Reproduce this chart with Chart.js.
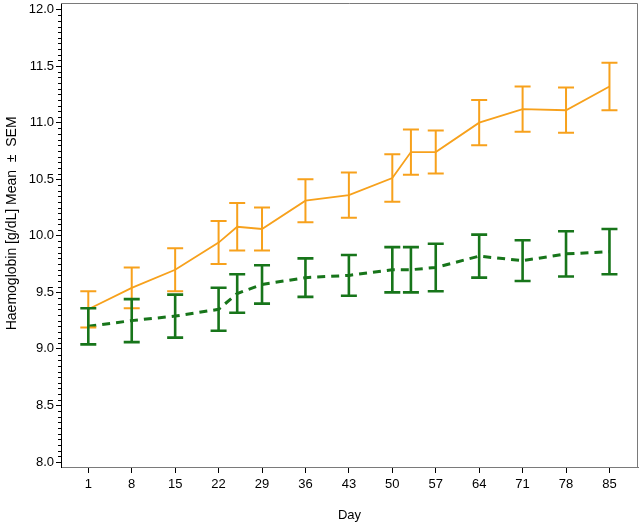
<!DOCTYPE html>
<html>
<head>
<meta charset="utf-8">
<script src="https://cdn.jsdelivr.net/npm/chart.js@4"></script>
<style>
  html, body { margin: 0; padding: 0; background: #fff; }
  #wrap { width: 642px; height: 523px; }
</style>
</head>
<body>
<div id="wrap"><canvas id="hbChart"></canvas></div>
<script>
// study days with a measurement
const days = [1, 8, 15, 22, 25, 29, 36, 43, 50, 53, 57, 64, 71, 78, 85];

// orange group (solid line)
const orangeMean = [9.35, 9.54, 9.70, 9.94, 10.08, 10.06, 10.31, 10.36, 10.51, 10.74, 10.74, 11.00, 11.12, 11.11, 11.32];
const orangeSem  = [0.16, 0.18, 0.19, 0.19, 0.21, 0.19, 0.19, 0.20, 0.21, 0.20, 0.19, 0.20, 0.20, 0.20, 0.21];

// green group (dashed line)
const greenMean = [9.20, 9.25, 9.29, 9.35, 9.49, 9.57, 9.63, 9.65, 9.70, 9.70, 9.72, 9.82, 9.78, 9.84, 9.86];
const greenSem  = [0.16, 0.19, 0.19, 0.19, 0.17, 0.17, 0.17, 0.18, 0.20, 0.20, 0.21, 0.19, 0.18, 0.20, 0.20];

const xTicks = [1, 8, 15, 22, 29, 36, 43, 50, 57, 64, 71, 78, 85];
const yTicks = [8.0, 8.5, 9.0, 9.5, 10.0, 10.5, 11.0, 11.5, 12.0];

const orange = '#F7A11C';
const green = '#17751A';
const fontFamily = '"Liberation Sans", Arial, sans-serif';

function toPoints(xs, ys) {
    return xs.map((d, i) => ({ x: d, y: ys[i] }));
}

// error bars, minor ticks and the frame
const extras = {
    id: 'extras',
    afterDatasetsDraw(chart) {
        const ctx = chart.ctx;
        const xs = chart.scales.x, ys = chart.scales.y;
        ctx.save();
        chart.data.datasets.forEach(ds => {
            if (!ds.sem) return;
            ctx.strokeStyle = ds.borderColor;
            ctx.lineWidth = ds.barWidth;
            ctx.setLineDash([]);
            ds.data.forEach((p, i) => {
                const x = xs.getPixelForValue(p.x);
                const yt = ys.getPixelForValue(p.y + ds.sem[i]);
                const yb = ys.getPixelForValue(p.y - ds.sem[i]);
                const half = 8;
                ctx.beginPath();
                ctx.moveTo(x, yt); ctx.lineTo(x, yb);
                ctx.moveTo(x - half, yt); ctx.lineTo(x + half, yt);
                ctx.moveTo(x - half, yb); ctx.lineTo(x + half, yb);
                ctx.stroke();
            });
        });
        ctx.restore();
    },
    afterDraw(chart) {
        const ctx = chart.ctx;
        const a = chart.chartArea;
        const ys = chart.scales.y;
        ctx.save();
        // minor ticks on the y axis
        ctx.strokeStyle = '#000';
        ctx.lineWidth = 1;
        for (let k = 0; k <= 80; k++) {
            if (k % 10 === 0) continue;
            const y = Math.round(ys.getPixelForValue(8 + k * 0.05)) + 0.5;
            ctx.beginPath();
            ctx.moveTo(a.left - 3, y);
            ctx.lineTo(a.left, y);
            ctx.stroke();
        }
        // top and right frame
        ctx.strokeStyle = '#7a7a7a';
        ctx.beginPath();
        ctx.moveTo(a.left, a.top + 0.5);
        ctx.lineTo(a.right - 0.5, a.top + 0.5);
        ctx.lineTo(a.right - 0.5, a.bottom);
        ctx.stroke();
        ctx.restore();
    }
};

new Chart(document.getElementById('hbChart'), {
    type: 'line',
    data: {
        datasets: [{
            label: 'Orange group',
            data: toPoints(days, orangeMean),
            sem: orangeSem,
            barWidth: 2,
            borderColor: orange,
            borderWidth: 1.8,
            pointRadius: 0,
            tension: 0,
            fill: false
        }, {
            label: 'Green group',
            data: toPoints(days, greenMean),
            sem: greenSem,
            barWidth: 2.6,
            borderColor: green,
            borderWidth: 3,
            borderDash: [8, 6],
            pointRadius: 0,
            tension: 0,
            fill: false
        }]
    },
    options: {
        responsive: true,
        maintainAspectRatio: false,
        animation: false,
        layout: { padding: { top: 3, right: 4, left: 0, bottom: 0 } },
        plugins: {
            legend: { display: false },
            tooltip: { enabled: false }
        },
        scales: {
            x: {
                type: 'linear',
                min: -3.4,
                max: 89.6,
                afterBuildTicks: s => { s.ticks = xTicks.map(v => ({ value: v })); },
                afterFit: s => { s.height = 56; s.paddingLeft = 0; s.paddingRight = 0; },
                grid: { display: true, drawOnChartArea: false, drawTicks: true, tickLength: 6, tickColor: '#000' },
                border: { display: true, color: '#7a7a7a', width: 1 },
                ticks: {
                    color: '#000',
                    font: { family: fontFamily, size: 13 },
                    padding: 4,
                    maxRotation: 0,
                    autoSkip: false
                },
                title: {
                    display: true,
                    text: 'Day',
                    color: '#000',
                    font: { family: fontFamily, size: 13 },
                    padding: { top: 6, bottom: 0 }
                }
            },
            y: {
                type: 'linear',
                min: 7.956,
                max: 12.058,
                afterBuildTicks: s => { s.ticks = yTicks.map(v => ({ value: v })); },
                afterFit: s => { s.width = 61; s.paddingTop = 0; s.paddingBottom = 0; },
                grid: { display: true, drawOnChartArea: false, drawTicks: true, tickLength: 5, tickColor: '#000' },
                border: { display: true, color: '#000', width: 1 },
                ticks: {
                    color: '#000',
                    font: { family: fontFamily, size: 13 },
                    padding: 2,
                    callback: v => Number(v).toFixed(1),
                    autoSkip: false
                },
                title: {
                    display: true,
                    text: '      Haemoglobin [g/dL] Mean  ±  SEM',
                    color: '#000',
                    font: { family: fontFamily, size: 14 },
                    padding: { top: 4, bottom: 4 }
                }
            }
        }
    },
    plugins: [extras]
});
</script>
</body>
</html>
